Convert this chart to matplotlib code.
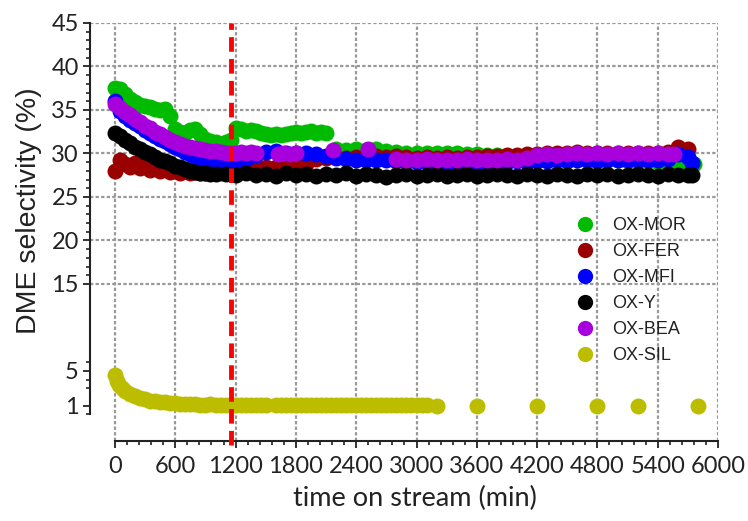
import matplotlib
matplotlib.use("Agg")
import matplotlib.pyplot as plt
from matplotlib.lines import Line2D

# time grids (min) and DME selectivity (%)
t_mor = list(range(0, 1001, 50)) + [1100, 1150] + list(range(1200, 2101, 50)) + list(range(2200, 5701, 100)) + [5760]
mor = [37.5, 37.4, 36.8, 36.3, 35.9, 35.6, 35.4, 35.3, 35.1, 35.0,
       35.1, 34.3, 32.8, 32.5, 32.3, 32.7, 32.8, 32.2, 31.7, 31.4,
       31.3, 31.3, 31.6,
       32.9, 32.8, 32.6, 32.7, 32.6, 32.4, 32.2, 32.1, 32.2, 32.1,
       32.2, 32.3, 32.5, 32.4, 32.5, 32.6, 32.4, 32.5, 32.3,
       30.5, 30.4, 30.5, 30.4, 30.5, 30.3, 30.2, 30.1, 30.1, 30.0,
       30.1, 30.0, 30.0, 29.9, 29.9, 29.8, 29.8, 29.7, 29.7, 29.6,
       29.6, 29.5, 29.5, 29.4, 29.4, 29.3, 29.3, 29.2, 29.2, 29.1,
       29.1, 29.1, 29.0, 29.0, 29.0, 28.9,
       28.8]

t_fer = list(range(0, 1201, 50)) + list(range(1300, 5701, 100))
fer = [28.0, 29.2, 28.8, 28.5, 28.9, 28.3, 28.7, 28.1, 28.5, 28.0,
       28.3, 27.9, 28.2, 27.8, 28.0, 27.7, 27.9, 27.7, 27.8, 27.7,
       27.9, 27.8, 28.0, 28.1, 28.3,
       28.4, 28.3, 28.5, 28.4, 28.6, 28.5, 28.8, 29.4, 29.5, 29.6,
       29.5, 29.6, 29.5, 29.7, 29.6, 29.7, 29.6, 29.5, 29.6, 29.5,
       29.6, 29.5, 29.6, 29.6, 29.7, 29.7, 29.8, 29.8, 29.9, 29.9,
       30.0, 30.1, 30.1, 30.2, 30.1, 30.1, 30.0, 30.1, 30.1, 30.0,
       30.1, 30.1, 30.2, 30.7, 30.5]

t_mfi = list(range(0, 1201, 50)) + list(range(1300, 5701, 100)) + [5740]
mfi = [36.0, 34.9, 34.3, 33.9, 33.5, 33.1, 32.7, 32.4, 32.0, 31.7,
       31.4, 31.1, 30.8, 30.5, 30.2, 29.9, 29.6, 29.4, 29.2, 29.0,
       28.9, 28.8, 28.8, 28.9, 29.1,
       29.4, 29.8, 30.2, 30.3, 30.1, 30.0, 30.0, 29.9, 29.7, 29.5,
       29.4, 29.3, 29.3, 29.2, 29.2, 29.1, 29.1, 29.0, 29.0, 29.0,
       28.9, 29.0, 29.0, 28.9, 29.0, 29.0, 29.0, 29.1, 29.0, 29.1,
       29.1, 29.2, 29.1, 29.2, 29.2, 29.1, 29.2, 29.2, 29.2, 29.3,
       29.2, 29.3, 29.4, 29.9, 29.6,
       28.9]

t_y = list(range(0, 1001, 50)) + list(range(1100, 5701, 100)) + [5740]
oxy = [32.4, 32.0, 31.6, 31.2, 30.8, 30.5, 30.2, 29.9, 29.6, 29.3,
       29.1, 28.9, 28.6, 28.4, 28.2, 28.0, 27.9, 27.8, 27.7, 27.6,
       27.6,
       27.6, 27.5, 27.7, 27.5, 27.6, 27.4, 27.7, 27.5, 27.6, 27.4,
       27.6, 27.5, 27.7, 27.4, 27.6, 27.5, 27.3, 27.5, 27.6, 27.4,
       27.5, 27.6, 27.4, 27.5, 27.6, 27.4, 27.5, 27.6, 27.5, 27.4,
       27.6, 27.5, 27.4, 27.6, 27.5, 27.4, 27.6, 27.5, 27.6, 27.4,
       27.5, 27.6, 27.5, 27.4, 27.6, 27.5, 27.5,
       27.5]

t_bea = list(range(0, 1401, 50)) + [1620, 1680, 1740, 1800, 2170, 2520] + list(range(2800, 5501, 100)) + [5560]
bea = [35.7, 35.2, 34.8, 34.4, 34.0, 33.6, 33.2, 32.9, 32.5, 32.2,
       31.9, 31.6, 31.3, 31.1, 30.9, 30.7, 30.6, 30.5, 30.4, 30.3,
       30.3, 30.2, 30.1, 30.0, 30.1, 30.2, 30.1, 30.2, 30.1,
       29.9, 30.1, 29.9, 30.0, 30.4, 30.5,
       29.4, 29.2, 29.3, 29.4, 29.3, 29.2, 29.3, 29.4, 29.3, 29.2,
       29.3, 29.4, 29.3, 29.5, 29.8, 29.9, 29.8, 29.9, 30.0, 29.9,
       30.0, 29.9, 30.0, 29.9, 30.0, 29.9, 30.0, 29.9,
       29.9]

t_sil = [0, 20, 40, 70, 100, 150, 200, 250, 300, 350, 400, 450, 500, 550, 600, 650] + \
    list(range(700, 1501, 50)) + list(range(1600, 3101, 50)) + [3200, 3600, 4200, 4800, 5200, 5800]
sil = [4.5, 3.9, 3.4, 3.0, 2.7, 2.4, 2.1, 1.9, 1.75, 1.6, 1.5, 1.45, 1.4, 1.35, 1.3, 1.25,
       1.2, 1.2, 1.15, 1.1, 1.1, 1.15, 1.1, 1.05, 1.1, 1.1, 1.05, 1.1, 1.1, 1.05, 1.1, 1.1, 1.05,
       1.1, 1.05, 1.1, 1.1, 1.05, 1.1, 1.05, 1.1, 1.1, 1.05, 1.1, 1.1, 1.05, 1.1, 1.05, 1.1,
       1.1, 1.05, 1.1, 1.05, 1.1, 1.1, 1.05, 1.1, 1.1, 1.05, 1.1, 1.05, 1.1, 1.1, 1.05,
       1.0, 1.0, 1.0, 1.0, 1.0, 1.0]

series = [
    ("OX-MOR", t_mor, mor, "#00bb00"),
    ("OX-FER", t_fer, fer, "#9a0000"),
    ("OX-MFI", t_mfi, mfi, "#0000ff"),
    ("OX-Y", t_y, oxy, "#000000"),
    ("OX-BEA", t_bea, bea, "#a800dc"),
    ("OX-SIL", t_sil, sil, "#bdbd00"),
]
switch_time = 1150

x_ticks = list(range(0, 6001, 600))
y_ticks = [1, 5, 15, 20, 25, 30, 35, 40, 45]
grid_y = [15, 20, 25, 30, 35, 40, 45]

fig = plt.figure(figsize=(7.48, 5.21), dpi=100)
ax = fig.add_axes([0.1203, 0.1536, 0.8396, 0.8023])

grid_kw = dict(color="#999999", lw=1.6, linestyle=(0, (1.5, 1.0)), zorder=0)
for xv in x_ticks:
    ax.axvline(xv, **grid_kw)
for yv in grid_y:
    ax.axhline(yv, **grid_kw)

for name, t, v, c in series:
    ax.plot(t, v, "o", color=c, ms=11.5, mec="none", zorder=2)

ax.axvline(switch_time, color="#ff0000", lw=3.5, linestyle=(0, (3.0, 1.5)), zorder=3,
           ymin=-0.01, clip_on=False)

ax.set_xlim(-249, 6000)
ax.set_ylim(-3.05, 45)
ax.spines["top"].set_visible(False)
ax.spines["right"].set_visible(False)
ax.spines["left"].set_bounds(0, 45)
ax.spines["bottom"].set_bounds(0, 6000)
for s in ("left", "bottom"):
    ax.spines[s].set_linewidth(1.5)
    ax.spines[s].set_color("#222222")

ax.set_xticks(x_ticks)
ax.set_xticks(list(range(0, 6001, 120)), minor=True)
ax.set_yticks(y_ticks)
ax.set_yticks([v for v in range(16, 45) if v % 5] + [6, 4, 3, 0], minor=True)
ax.tick_params(which="major", length=5, width=1.3, labelsize=17, pad=3, color="#222222")
ax.tick_params(which="minor", length=3, width=1.2, color="#222222")
ax.tick_params(axis="x", which="major", pad=6)
for lab in ax.get_xticklabels() + ax.get_yticklabels():
    lab.set_family("Lato")
    lab.set_color("#222222")

ax.set_xlabel("time on stream (min)", family="Lato", fontsize=19.5, color="#222222")
ax.xaxis.set_label_coords(0.5175, -0.107)
ax.set_ylabel("DME selectivity (%)", family="Liberation Sans", fontsize=20.5, color="#222222")
ax.yaxis.set_label_coords(-0.076, 0.55)

handles = [Line2D([], [], marker="o", ls="none", color=c, ms=11, mec="none") for _, _, _, c in series]
labels = [n for n, _, _, _ in series]
leg = ax.legend(handles, labels, loc="upper left", bbox_to_anchor=(576 / 748, 1 - 217 / 521),
                bbox_transform=fig.transFigure, frameon=False, borderpad=0, borderaxespad=0,
                handlelength=1.0, handletextpad=1.0, labelspacing=0.5,
                prop={"family": "Liberation Sans", "size": 13})
for txt in leg.get_texts():
    txt.set_color("#222222")

fig.savefig("out.png", dpi=100)
